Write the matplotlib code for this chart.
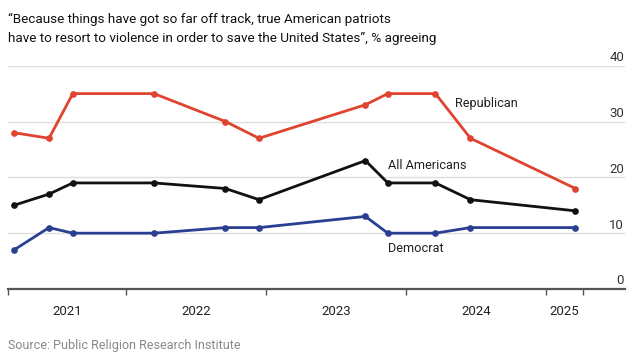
import matplotlib
matplotlib.use("Agg")
import matplotlib.pyplot as plt
import matplotlib.transforms as mtransforms

plt.rcParams['font.family'] = ['Roboto', 'DejaVu Sans']

# Survey dates as fractional years
dates = [2021.2, 2021.45, 2021.62, 2022.2, 2022.71, 2022.95,
         2023.71, 2023.87, 2024.21, 2024.46, 2025.21]
republican = [28, 27, 35, 35, 30, 27, 33, 35, 35, 27, 18]
all_americans = [15, 17, 19, 19, 18, 16, 23, 19, 19, 16, 14]
democrat = [7, 11, 10, 10, 11, 11, 13, 10, 10, 11, 11]

year_ticks = [2021.157, 2022, 2023, 2024, 2025, 2025.264]
year_labels = ['2021', '2022', '2023', '2024', '2025']
y_ticks = [0, 10, 20, 30, 40]

red = '#e0432f'
black = '#111111'
blue = '#2a3f92'

fig = plt.figure(figsize=(6.4, 3.63), dpi=100)
ax = fig.add_axes([8 / 640, 1 - 289 / 363, 617 / 640, (289 - 65.7) / 363])

ax.set_xlim(2021.157, 2025.564)
ax.set_ylim(0, 40)

for vals, col in [(republican, red), (all_americans, black), (democrat, blue)]:
    ax.plot(dates, vals, color=col, lw=2, marker='o', ms=3.8, zorder=3,
            clip_on=False, solid_joinstyle='miter')

# gridlines + labels on the right
for v in y_ticks[1:]:
    ax.axhline(v, color='#dedede', lw=1, zorder=1)
trans = mtransforms.blended_transform_factory(ax.transAxes, ax.transData)
for v in y_ticks:
    ax.text(0.9985, v + 0.3, str(v), transform=trans, ha='right', va='bottom',
            fontsize=9.5, color='#333333')

for s in ['top', 'right', 'left']:
    ax.spines[s].set_visible(False)
ax.spines['bottom'].set_color('#555555')
ax.spines['bottom'].set_linewidth(1.6)
ax.set_yticks([])
ax.set_xticks(year_ticks)
ax.set_xticklabels([])
ax.tick_params(axis='x', length=4, width=1, color='#555555', direction='out')

for i, lab in enumerate(year_labels):
    mid = (year_ticks[i] + year_ticks[i + 1]) / 2
    ax.text(mid, -4.1, lab, ha='center', va='center', fontsize=9.5, color='#222222')

# series labels
ax.text(2024.35, 33.2, 'Republican', fontsize=9.2, color='#222222', va='center')
ax.text(2023.87, 22.2, 'All Americans', fontsize=9.2, color='#222222', va='center')
ax.text(2023.87, 7.3, 'Democrat', fontsize=9.2, color='#222222', va='center')

fig.text(8 / 640, 1 - 13 / 363,
         '\u201cBecause things have got so far off track, true American patriots\n'
         'have to resort to violence in order to save the United States\u201d, % agreeing',
         ha='left', va='top', fontsize=9.7, color='#111111', linespacing=1.62)
fig.text(8 / 640, 1 - 346 / 363, 'Source: Public Religion Research Institute',
         ha='left', va='center', fontsize=9, color='#888888')

fig.savefig('out.png', dpi=100)
